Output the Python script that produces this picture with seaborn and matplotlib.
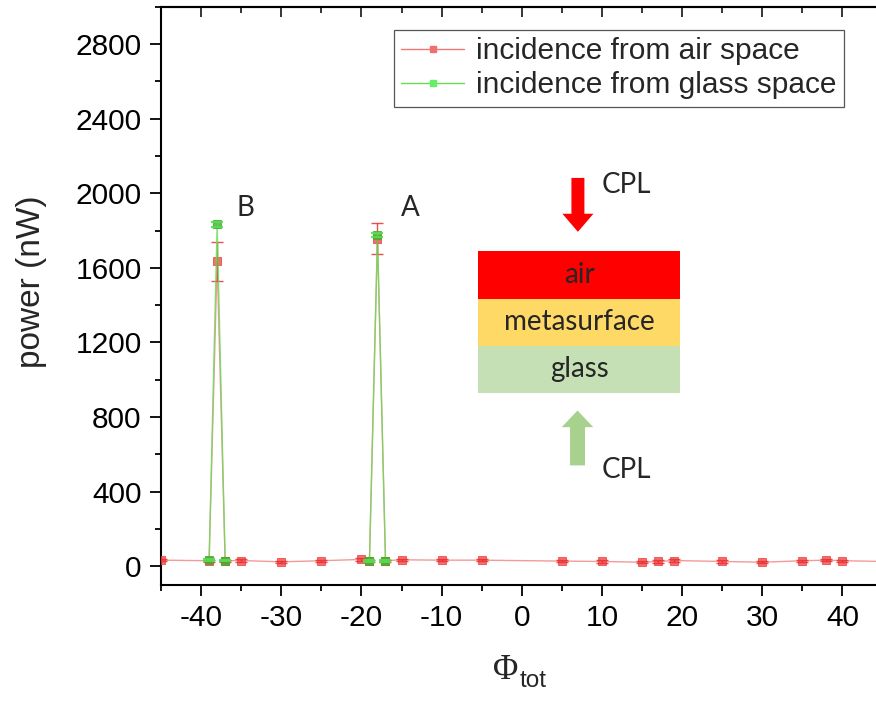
import numpy as np
import pandas as pd
import matplotlib
matplotlib.use("Agg")
import matplotlib.pyplot as plt
import seaborn as sns
from matplotlib.lines import Line2D
from matplotlib.patches import Rectangle, Polygon

# measured power vs total phase, incidence from the air side
phi_air = [-45, -39, -38, -37, -35, -30, -25, -20, -19, -18, -17, -15, -10, -5,
           5, 10, 15, 17, 19, 25, 30, 35, 38, 40, 45]
power_air = [33, 30, 1635, 30, 31, 24, 30, 37, 30, 1757, 30, 35, 33, 33,
             28, 26, 22, 26, 31, 26, 22, 30, 33, 30, 26]
err_air = [6, 6, 103, 6, 6, 6, 6, 6, 6, 85, 6, 6, 6, 6,
           6, 6, 6, 6, 6, 6, 6, 6, 6, 6, 6]

# incidence from the glass side (measured only around the two peaks)
phi_glass = [-39, -38, -37, -19, -18, -17]
power_glass = [33, 1833, 31, 30, 1776, 28]
err_glass = [5, 12, 5, 5, 12, 5]
segment_glass = [0, 0, 0, 1, 1, 1]

legend_labels = ["incidence from air space", "incidence from glass space"]
x_ticks = [-40, -30, -20, -10, 0, 10, 20, 30, 40]
y_ticks = [0, 400, 800, 1200, 1600, 2000, 2400, 2800]

air_df = pd.DataFrame({"phi": phi_air, "power": power_air, "err": err_air})
glass_df = pd.DataFrame({"phi": phi_glass, "power": power_glass,
                         "err": err_glass, "seg": segment_glass})

sns.set_theme(style="ticks")
plt.rcParams["font.family"] = ["Liberation Sans", "DejaVu Sans"]
plt.rcParams["axes.unicode_minus"] = False

red_line = "#f07878"
red_mark = "#f04040"
green_line = "#66dd55"
green_mark = "#4aa82a"

fig = plt.figure(figsize=(8.76, 7.02), dpi=100)
ax = fig.add_axes([0.1838, 0.1667, 0.8237, 0.8238])

# air-side series
sns.lineplot(data=air_df, x="phi", y="power", estimator=None,
             color=red_line, lw=1.0, marker="s", markersize=6,
             markerfacecolor=red_mark, markeredgecolor=red_mark,
             alpha=0.75, ax=ax, zorder=3, sort=False)
ax.errorbar(air_df["phi"], air_df["power"], yerr=air_df["err"],
            fmt="none", ecolor="#e83030", elinewidth=1.0, capsize=4.5,
            capthick=1.0, alpha=0.85, zorder=3)

# glass-side series, drawn as two separate segments
sns.lineplot(data=glass_df, x="phi", y="power", units="seg", estimator=None,
             color=green_line, lw=1.0, marker="s", markersize=6,
             markerfacecolor=green_mark, markeredgecolor=green_mark,
             alpha=0.8, ax=ax, zorder=4, sort=False)
ax.errorbar(glass_df["phi"], glass_df["power"], yerr=glass_df["err"],
            fmt="none", ecolor="#55dd55", elinewidth=1.0, capsize=4.5,
            capthick=1.6, alpha=0.9, zorder=4)

ax.set_xlim(-45, 45)
ax.set_ylim(-100, 3000)
ax.set_xticks(x_ticks)
ax.set_yticks(y_ticks)
ax.set_xticks(np.arange(-45, 46, 5), minor=True)
ax.set_yticks(np.arange(-0, 3001, 200), minor=True)
ax.set_yticklabels([str(v) for v in y_ticks])
ax.set_xticklabels([str(v) for v in x_ticks])

for s in ["left", "bottom", "top"]:
    ax.spines[s].set_linewidth(1.5)
    ax.spines[s].set_color("black")
ax.spines["right"].set_visible(False)

ax.tick_params(which="major", direction="out", length=8, width=1.3,
               labelsize=21.5, colors="black", pad=6)
ax.tick_params(which="minor", direction="out", length=4.5, width=1.3,
               colors="black")

# inward ticks along the top edge
top = ax.secondary_xaxis("top")
top.set_xticks(x_ticks)
top.set_xticks(np.arange(-45, 46, 5), minor=True)
top.tick_params(which="major", direction="in", length=7.5, width=1.3,
                labeltop=False)
top.tick_params(which="minor", direction="in", length=4, width=1.3)
top.spines["top"].set_linewidth(1.5)

ax.set_ylabel("power (nW)", fontsize=24)
ax.yaxis.set_label_coords(-0.158, 0.524)

ax.set_xlabel("Φ", fontsize=25, family=["Liberation Serif"])
ax.xaxis.set_label_coords(0.477, -0.12)
ax.annotate("tot", xy=(1, 0), xycoords=ax.xaxis.label, xytext=(1.0, 0),
            textcoords="offset points", ha="left", va="baseline",
            fontsize=17.5)

handles = [
    Line2D([], [], color=red_line, lw=1.0, marker="s", markersize=4.5,
           markerfacecolor="#f07070", markeredgecolor="#f07070"),
    Line2D([], [], color=green_line, lw=1.0, marker="s", markersize=4.5,
           markerfacecolor="#66ee66", markeredgecolor="#66ee66"),
]
leg = ax.legend(handles, legend_labels, loc="upper right",
                bbox_to_anchor=(0.9466, 0.9597), borderaxespad=0,
                fontsize=21.5, handlelength=2.1, handletextpad=0.4,
                borderpad=0.25, labelspacing=0.2, fancybox=False,
                frameon=True, framealpha=1)
leg.get_frame().set_edgecolor("#555555")
leg.get_frame().set_linewidth(0.9)

# peak labels
note_font = ["Lato", "DejaVu Sans"]
ax.text(-35.6, 1879, "B", fontsize=20, family=note_font, va="baseline")
ax.text(-15.05, 1879, "A", fontsize=20, family=note_font, va="baseline")

# layer stack sketch
layers = [("air", 1433, 1688, "#ff0000"),
          ("metasurface", 1183, 1433, "#ffd966"),
          ("glass", 931, 1183, "#c5e0b4")]
x0, x1 = -5.4, 19.7
for name, y0, y1, col in layers:
    ax.add_patch(Rectangle((x0, y0), x1 - x0, y1 - y0, facecolor=col,
                           edgecolor="none", zorder=2))
    ax.text((x0 + x1) / 2, (y0 + y1) / 2, name, ha="center", va="center",
            fontsize=20, family=note_font, zorder=2.5)

def block_arrow(xc, y_tail, y_base, y_tip, shaft_w, head_w, color):
    pts = [(xc - shaft_w / 2, y_tail), (xc + shaft_w / 2, y_tail),
           (xc + shaft_w / 2, y_base), (xc + head_w / 2, y_base),
           (xc, y_tip), (xc - head_w / 2, y_base),
           (xc - shaft_w / 2, y_base)]
    ax.add_patch(Polygon(pts, closed=True, facecolor=color,
                         edgecolor="none", zorder=2))

block_arrow(7.0, 2082, 1890, 1793, 1.62, 3.87, "#ff0000")
block_arrow(6.95, 541, 746, 835, 1.87, 3.94, "#a9d18e")
ax.text(10.0, 2002, "CPL", fontsize=20, family=note_font, va="baseline")
ax.text(10.0, 476, "CPL", fontsize=20, family=note_font, va="baseline")

fig.savefig("out.png", dpi=100)
